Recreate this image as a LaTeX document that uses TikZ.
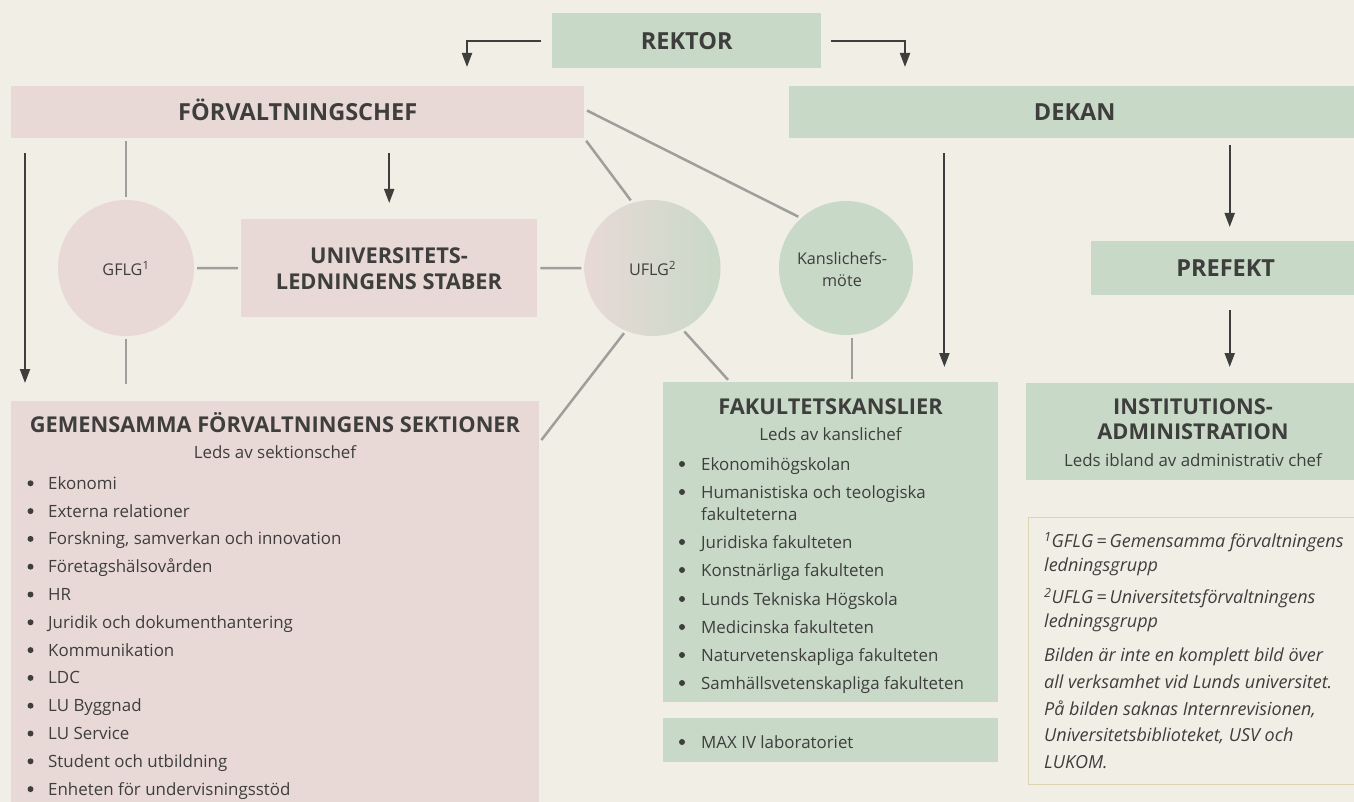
\documentclass[tikz,border=0pt]{standalone}
\usepackage{fontspec}
\setmainfont{Open Sans}
\usetikzlibrary{positioning,calc,arrows.meta}

\definecolor{bgcol}{HTML}{F1EEE6}
\definecolor{pinkfill}{HTML}{E8D9D6}
\definecolor{greenfill}{HTML}{C9D9C8}
\definecolor{inkcol}{HTML}{3E3E3D}
\definecolor{linkcol}{HTML}{9E9E9B}
\definecolor{notecol}{HTML}{DCD3B0}

\tikzset{
  pinkbox/.style={fill=pinkfill, inner sep=0pt, anchor=north west},
  greenbox/.style={fill=greenfill, inner sep=0pt, anchor=north west},
  ring/.style={circle, inner sep=0pt, minimum size=136pt},
  tophead/.style={font=\fontsize{23.5}{28}\selectfont\bfseries, text=inkcol,
    text height=16.8pt, text depth=0pt},
  subhead/.style={font=\fontsize{21.8}{26}\selectfont\bfseries, text=inkcol,
    anchor=base, inner sep=0pt},
  txt/.style={font=\fontsize{16.9}{20}\selectfont, text=inkcol,
    anchor=base west, inner sep=0pt},
  ctxt/.style={txt, anchor=base},
  rtxt/.style={ctxt, font=\fontsize{16.2}{20}\selectfont},
  note/.style={font=\fontsize{18}{22}\selectfont\itshape, text=inkcol,
    anchor=base west, inner sep=0pt},
  dot/.style={fill=inkcol},
  link/.style={draw=linkcol, line width=2.5pt, shorten <=3pt, shorten >=3pt},
  arr/.style={draw=inkcol, line width=2pt, -{Triangle[length=14pt,width=10pt]}},
}

\begin{document}
\begin{tikzpicture}[x=1pt, y=-1pt]
    \useasboundingbox (0,0) rectangle (1354,802);
    \fill[bgcol] (0,0) rectangle (1354,802);

    % top row
    \node[greenbox, tophead, minimum width=269pt, minimum height=55pt] (rektor) at (552,13) {REKTOR};
    \node[pinkbox, tophead, minimum width=573pt, minimum height=52pt] (forv) at (11,86) {FÖRVALTNINGSCHEF};
    \node[greenbox, tophead, minimum width=571pt, minimum height=52pt] (dekan) at (789,86) {DEKAN};
    \node[greenbox, tophead, minimum width=269pt, minimum height=54pt] (prefekt) at (1091,241) {PREFEKT};

    % middle row
    \node[ring, fill=pinkfill] (gflg) at (126,268) {};
    \node[rtxt] (gflgtxt) at (126,275.7) {GFLG\textsuperscript{1}};
    \node[pinkbox, minimum width=296pt, minimum height=98pt] (univ) at (241,219) {};
    \node[subhead] (univa) at (389,263.3) {UNIVERSITETS-};
    \node[subhead] (univb) at (389,289) {LEDNINGENS STABER};
    \node[ring, left color=pinkfill, right color=greenfill] (uflg) at (652.5,268) {};
    \node[rtxt] (uflgtxt) at (652.5,275.7) {UFLG\textsuperscript{2}};
    \node[ring, fill=greenfill, minimum size=134pt] (kansli) at (846,268) {};
    \node[rtxt] (kanslia) at (842,265) {Kanslichefs-};
    \node[rtxt] (kanslib) at (842,287) {möte};

    % sektioner
    \node[pinkbox, minimum width=528pt, minimum height=402pt] (gem) at (11,401) {};
    \node[subhead] (gemhead) at (275,432.8) {GEMENSAMMA FÖRVALTNINGENS SEKTIONER};
    \node[ctxt] (gemsub) at (275,458.3) {Leds av sektionschef};
    \foreach \t [count=\i from 0] in {Ekonomi, Externa relationer,
        {Forskning, samverkan och innovation}, Företagshälsovården, HR,
        Juridik och dokumenthantering, Kommunikation, LDC, LU Byggnad,
        LU Service, Student och utbildning, Enheten för undervisningsstöd} {
      \fill[dot] (30.5,{483.3+27.8*\i}) circle (3pt);
      \node[txt] (gi\i) at (48,{489.3+27.8*\i}) {\t};
    }

    % fakultetskanslier
    \node[greenbox, minimum width=335pt, minimum height=320pt] (fak) at (663,382) {};
    \node[subhead] (fakhead) at (830.5,414) {FAKULTETSKANSLIER};
    \node[ctxt] (faksub) at (830.5,440) {Leds av kanslichef};
    \foreach \y/\t [count=\i] in {470/Ekonomihögskolan, 498/Humanistiska och teologiska,
        548/Juridiska fakulteten, 576/Konstnärliga fakulteten,
        605/Lunds Tekniska Högskola, 633/Medicinska fakulteten,
        661/Naturvetenskapliga fakulteten, 689/Samhällsvetenskapliga fakulteten} {
      \fill[dot] (682,\y-6) circle (3pt);
      \node[txt] (fi\i) at (701,\y) {\t};
    }
    \node[txt] (fi2b) at (701,520) {fakulteterna};
    \node[greenbox, minimum width=335pt, minimum height=44pt] (maxiv) at (663,718) {};
    \fill[dot] (682,742) circle (3pt);
    \node[txt] (maxivtxt) at (701,748) {MAX IV laboratoriet};

    % institutionsadministration
    \node[greenbox, minimum width=334pt, minimum height=97pt] (inst) at (1026,383) {};
    \node[subhead] (insta) at (1193,414) {INSTITUTIONS-};
    \node[subhead] (instb) at (1193,439.3) {ADMINISTRATION};
    \node[ctxt] (instsub) at (1193,466.7) {Leds ibland av administrativ chef};

    % fotnoter
    \node[draw=notecol, line width=1.3pt, inner sep=0pt, anchor=north west,
      minimum width=334pt, minimum height=267pt] (note) at (1028,517) {};
    \node[note] (n1) at (1044,547.3) {\textsuperscript{1}GFLG\hspace{3pt}=\hspace{3pt}Gemensamma förvaltningens};
    \node[note] (n2) at (1044,571.7) {ledningsgrupp};
    \node[note] (n3) at (1044,603.3) {\textsuperscript{2}UFLG\hspace{3pt}=\hspace{3pt}Universitetsförvaltningens};
    \node[note] (n4) at (1044,627.3) {ledningsgrupp};
    \node[note] (n5) at (1044,661.7) {Bilden är inte en komplett bild över};
    \node[note] (n6) at (1044,688.3) {all verksamhet vid Lunds universitet.};
    \node[note] (n7) at (1044,715) {På bilden saknas Internrevisionen,};
    \node[note] (n8) at (1044,741.7) {Universitetsbiblioteket, USV och};
    \node[note] (n9) at (1044,768.3) {LUKOM.};

    % arrows
    \coordinate (toforv) at (467,67);
    \coordinate (todekan) at (905,67);
    \draw[arr, shorten <=11pt] (rektor.west) -| (toforv);
    \draw[arr, shorten <=10pt] (rektor.east) -| (todekan);
    \draw[arr] ($(forv.south west)+(14,15)$) -- ($(gem.north west)+(14,-18)$);
    \draw[arr, shorten <=15pt, shorten >=16pt] (univ.north |- forv.south) -- (univ.north);
    \coordinate (fakin) at ($(fak.north east)+(-54,-15)$);
    \draw[arr, shorten <=15pt] (dekan.south -| fakin) -- (fakin);
    \draw[arr, shorten <=7pt, shorten >=14pt] ($(prefekt.north |- dekan.south)+(4,0)$) -- ($(prefekt.north)+(4,0)$);
    \draw[arr, shorten <=15pt, shorten >=16pt] ($(prefekt.south)+(4,0)$) -- ($(prefekt.south |- inst.north)+(4,0)$);

    % grey links
    \draw[link] (gflg.north |- forv.south) -- (gflg.north);
    \draw[link] (gflg.east) -- (univ.west);
    \draw[link] (univ.east) -- (uflg.west);
    \draw[link, shorten >=17pt] (gflg.south) -- (gflg.south |- gem.north);
    \draw[link] ($(forv.east)+(0,-3)$) -- (kansli.132);
    \draw[link] (forv.south east) -- (uflg.107);
    \draw[link, shorten >=0pt] (uflg.247) -- ($(gem.north east)+(2,39)$);
    \draw[link] (uflg.296) -- ($(fak.north west)+(67,0)$);
    \draw[link] ($(kansli.south)+(6,0)$) -- ($(kansli.south |- fak.north)+(6,0)$);
\end{tikzpicture}
\end{document}
